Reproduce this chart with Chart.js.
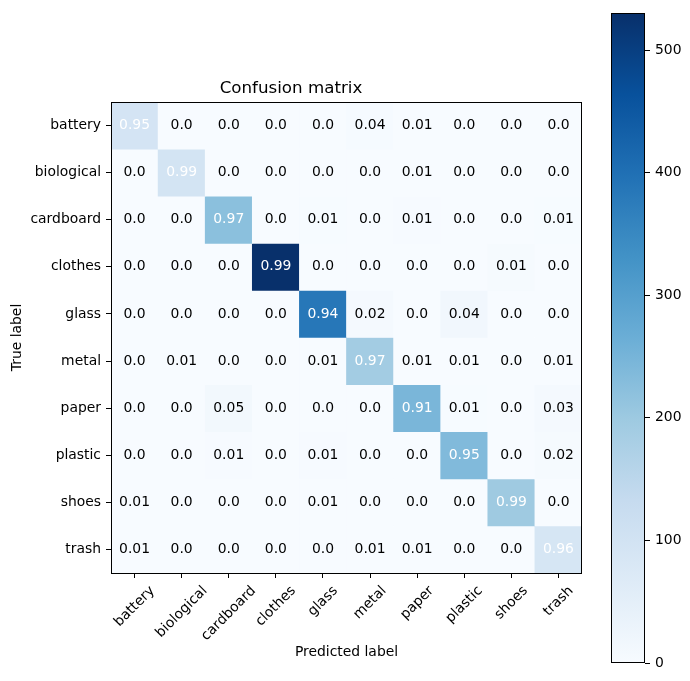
<!DOCTYPE html>
<html>
<head>
<meta charset="utf-8">
<script src="https://cdn.jsdelivr.net/npm/chart.js@4.4.1/dist/chart.umd.min.js"></script>
<style>
  html, body { margin: 0; padding: 0; background: #fff; }
  #wrap { position: relative; width: 690px; height: 681px; }
  #cm { position: absolute; left: 0; top: 0; }
  #cbar { position: absolute; left: 590px; top: 0; }
</style>
</head>
<body>
<div id="wrap">
  <canvas id="cm" width="590" height="681"></canvas>
  <canvas id="cbar" width="100" height="681"></canvas>
</div>
<script>
// classes (same order for true and predicted)
const classes = ['battery', 'biological', 'cardboard', 'clothes', 'glass', 'metal', 'paper', 'plastic', 'shoes', 'trash'];

// raw counts, used for the cell colours (rows = true label)
const counts = [
    [95, 0, 0, 0, 0, 4, 1, 0, 0, 0],
    [0, 96, 0, 0, 0, 0, 1, 0, 0, 0],
    [0, 0, 223, 0, 2, 0, 3, 0, 0, 2],
    [0, 0, 0, 530, 0, 0, 0, 0, 5, 0],
    [0, 0, 0, 0, 385, 8, 0, 16, 0, 0],
    [0, 1, 0, 0, 1, 190, 1, 1, 0, 1],
    [0, 0, 13, 0, 0, 0, 245, 2, 0, 8],
    [0, 0, 3, 0, 3, 0, 0, 237, 0, 6],
    [1, 0, 0, 0, 1, 0, 0, 0, 197, 0],
    [1, 0, 0, 0, 0, 1, 1, 0, 0, 88]
];

// normalized values printed in the cells
const rates = [
    [0.95, 0.0, 0.0, 0.0, 0.0, 0.04, 0.01, 0.0, 0.0, 0.0],
    [0.0, 0.99, 0.0, 0.0, 0.0, 0.0, 0.01, 0.0, 0.0, 0.0],
    [0.0, 0.0, 0.97, 0.0, 0.01, 0.0, 0.01, 0.0, 0.0, 0.01],
    [0.0, 0.0, 0.0, 0.99, 0.0, 0.0, 0.0, 0.0, 0.01, 0.0],
    [0.0, 0.0, 0.0, 0.0, 0.94, 0.02, 0.0, 0.04, 0.0, 0.0],
    [0.0, 0.01, 0.0, 0.0, 0.01, 0.97, 0.01, 0.01, 0.0, 0.01],
    [0.0, 0.0, 0.05, 0.0, 0.0, 0.0, 0.91, 0.01, 0.0, 0.03],
    [0.0, 0.0, 0.01, 0.0, 0.01, 0.0, 0.0, 0.95, 0.0, 0.02],
    [0.01, 0.0, 0.0, 0.0, 0.01, 0.0, 0.0, 0.0, 0.99, 0.0],
    [0.01, 0.0, 0.0, 0.0, 0.0, 0.01, 0.01, 0.0, 0.0, 0.96]
];

// colorbar tick values
const cbarTicks = [0, 100, 200, 300, 400, 500];

// matplotlib "Blues"
const blues = [
    [247, 251, 255], [222, 235, 247], [198, 219, 239], [158, 202, 225], [107, 174, 214],
    [66, 146, 198], [33, 113, 181], [8, 81, 156], [8, 48, 107]
];

function bluesAt(t) {
    t = Math.max(0, Math.min(1, t));
    const p = t * (blues.length - 1);
    const i = Math.min(Math.floor(p), blues.length - 2);
    const f = p - i;
    const c = blues[i].map((v, k) => Math.round(v + (blues[i + 1][k] - v) * f));
    return 'rgb(' + c.join(',') + ')';
}

const maxCount = Math.max(...counts.map(r => Math.max(...r)));
const thresh = Math.max(...rates.map(r => Math.max(...r))) / 2;
const FONT = 'DejaVu Sans';
const FS = 13.9;

Chart.defaults.font.family = FONT;
Chart.defaults.font.size = FS;
Chart.defaults.color = '#000';

function fmt(v) {
    return Number.isInteger(v) ? v.toFixed(1) : String(v);
}

// cell texts, frame and centred rotated x labels
const matrixDecor = {
    id: 'matrixDecor',
    afterDatasetsDraw(chart) {
        const ctx = chart.ctx;
        const x = chart.scales.x, y = chart.scales.y;
        ctx.save();
        ctx.font = FS + 'px ' + FONT;
        ctx.textAlign = 'center';
        ctx.textBaseline = 'middle';
        rates.forEach((row, i) => {
            row.forEach((v, j) => {
                ctx.fillStyle = v > thresh ? '#fff' : '#000';
                ctx.fillText(fmt(v), x.getPixelForValue(j), y.getPixelForValue(i));
            });
        });
        ctx.restore();
    },
    afterDraw(chart) {
        const ctx = chart.ctx;
        const a = chart.chartArea;
        const x = chart.scales.x;
        ctx.save();
        ctx.strokeStyle = '#000';
        ctx.lineWidth = 1;
        ctx.strokeRect(Math.round(a.left) + 0.5, Math.round(a.top) + 0.5,
            Math.round(a.right - a.left) - 1, Math.round(a.bottom - a.top));

        ctx.font = FS + 'px ' + FONT;
        ctx.fillStyle = '#000';
        ctx.textAlign = 'center';
        ctx.textBaseline = 'middle';
        const top = a.bottom + 10;
        classes.forEach((lab, j) => {
            const w = ctx.measureText(lab).width;
            const h = FS * 1.15;
            const boxH = (w + h) * Math.SQRT1_2;
            ctx.save();
            ctx.translate(x.getPixelForValue(j), top + boxH / 2);
            ctx.rotate(-Math.PI / 4);
            ctx.fillText(lab, 0, 0);
            ctx.restore();
        });
        ctx.restore();
    }
};

new Chart(document.getElementById('cm'), {
    type: 'bar',
    data: {
        labels: classes,
        datasets: counts.map((row, i) => ({
            data: row.map(() => [i - 0.5, i + 0.5]),
            backgroundColor: row.map(c => bluesAt(c / maxCount)),
            borderWidth: 0,
            barPercentage: 1,
            categoryPercentage: 1,
            grouped: false
        }))
    },
    options: {
        responsive: false,
        animation: false,
        layout: { padding: { left: 0, right: 8, top: 0, bottom: 0 } },
        plugins: {
            legend: { display: false },
            tooltip: { enabled: false },
            title: {
                display: true,
                text: 'Confusion matrix',
                color: '#000',
                font: { size: 16.7, weight: 'normal' },
                padding: { top: 79, bottom: 3 }
            }
        },
        scales: {
            x: {
                type: 'category',
                grid: { display: true, offset: false, drawOnChartArea: false, drawTicks: true, tickLength: 5, color: '#000' },
                border: { display: false },
                ticks: { display: false },
                title: { display: true, text: 'Predicted label', padding: { top: 0, bottom: 20 } },
                afterFit(scale) { scale.height = 108; }
            },
            y: {
                type: 'linear',
                min: -0.5,
                max: 9.5,
                reverse: true,
                grid: { display: true, drawOnChartArea: false, drawTicks: true, tickLength: 5, color: '#000' },
                border: { display: false },
                afterBuildTicks(scale) { scale.ticks = classes.map((_, i) => ({ value: i })); },
                ticks: { padding: 5, autoSkip: false, callback: v => classes[v] },
                title: { display: true, text: 'True label', padding: { top: 9, bottom: 0 } },
                afterFit(scale) { scale.width = 111; }
            }
        }
    },
    plugins: [matrixDecor]
});

// colorbar
const cbarFrame = {
    id: 'cbarFrame',
    afterDraw(chart) {
        const a = chart.chartArea;
        const ctx = chart.ctx;
        ctx.save();
        ctx.strokeStyle = '#000';
        ctx.lineWidth = 1;
        ctx.strokeRect(Math.round(a.left) + 0.5, Math.round(a.top) + 0.5,
            Math.round(a.right - a.left) - 1, Math.round(a.bottom - a.top) - 1);
        ctx.restore();
    }
};

new Chart(document.getElementById('cbar'), {
    type: 'bar',
    data: {
        labels: [''],
        datasets: [{
            data: [[0, maxCount]],
            backgroundColor(c) {
                const a = c.chart.chartArea;
                if (!a) return bluesAt(0.5);
                const g = c.chart.ctx.createLinearGradient(0, a.bottom, 0, a.top);
                blues.forEach((_, k) => g.addColorStop(k / (blues.length - 1), bluesAt(k / (blues.length - 1))));
                return g;
            },
            borderWidth: 0,
            barPercentage: 1,
            categoryPercentage: 1
        }]
    },
    options: {
        responsive: false,
        animation: false,
        layout: { padding: { left: 21, right: 0, top: 8, bottom: 18 } },
        plugins: { legend: { display: false }, tooltip: { enabled: false } },
        scales: {
            x: { display: false },
            y: {
                position: 'right',
                min: 0,
                max: maxCount,
                grid: { display: true, drawOnChartArea: false, drawTicks: true, tickLength: 5, color: '#000' },
                border: { display: false },
                afterBuildTicks(scale) { scale.ticks = cbarTicks.map(v => ({ value: v })); },
                ticks: { padding: 5, callback: v => String(v) },
                afterFit(scale) { scale.width = 45; }
            }
        }
    },
    plugins: [cbarFrame]
});
</script>
</body>
</html>
